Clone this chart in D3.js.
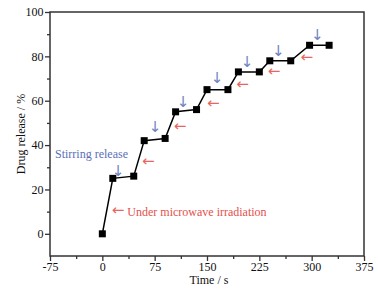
<!DOCTYPE html>
<html><head><meta charset="utf-8">
<script src="https://cdn.jsdelivr.net/npm/d3@7"></script>
<style>html,body{margin:0;padding:0;background:#fff}svg{display:block}</style>
</head><body><svg id="c" width="378" height="290"></svg>
<script>
const timeS = [0, 15, 45, 60, 90, 105, 135, 150, 180, 195, 225, 240, 270, 297, 325];
const release = [0, 25, 26, 42, 43, 55, 56, 65, 65, 73, 73, 78, 78, 85, 85];
const xTicks = [-75, 0, 75, 150, 225, 300, 375];
const xMinor = [-37.5, 37.5, 112.5, 187.5, 262.5, 337.5];
const yTicks = [0, 20, 40, 60, 80, 100];
const yMinor = [10, 30, 50, 70, 90];
// annotation arrows (data coords of arrow centre)
const stirArrowX = [22.5, 75.6, 115.7, 164.5, 207.5, 252, 308];
const stirArrowY = [28.4, 48.2, 59.5, 70.3, 77.5, 82.5, 89.7];
const mwArrowX = [66, 111.4, 159, 201, 246, 293];
const mwArrowY = [33, 48.6, 58.9, 67.6, 73.5, 79.6];
const stirLabel = {text: "Stirring release", x: -67.8, y: 34};
const mwLabel = {arrow: "\u2190", text: " Under microwave irradiation", x: 13.5, y: 8.1};

const svg = d3.select("#c");
const L = 50, R = 364, T = 12, B = 256;
const x = d3.scaleLinear().domain([-75, 375]).range([L, R]);
const y = d3.scaleLinear().domain([-10, 100]).range([B, T]);
const axisCol = "#333";
const font = "'Liberation Serif','Times New Roman',serif";
const arrowFont = "'DejaVu Sans',sans-serif";

// frame
svg.append("rect").attr("x", L).attr("y", T).attr("width", R - L).attr("height", B - T)
  .attr("fill", "none").attr("stroke", axisCol).attr("stroke-width", 1.5);

// axes
const fmt = d => String(d);
const xa = svg.append("g").attr("transform", `translate(0,${B})`)
  .call(d3.axisBottom(x).tickValues(xTicks).tickSize(5).tickSizeOuter(0).tickFormat(fmt));
const xm = svg.append("g").attr("transform", `translate(0,${B})`)
  .call(d3.axisBottom(x).tickValues(xMinor).tickSize(3).tickSizeOuter(0).tickFormat(""));
const ya = svg.append("g").attr("transform", `translate(${L},0)`)
  .call(d3.axisLeft(y).tickValues(yTicks).tickSize(5).tickPadding(1.5).tickSizeOuter(0).tickFormat(fmt));
const ym = svg.append("g").attr("transform", `translate(${L},0)`)
  .call(d3.axisLeft(y).tickValues(yMinor).tickSize(3).tickSizeOuter(0).tickFormat(""));
[xa, xm, ya, ym].forEach(g => {
  g.select(".domain").remove();
  g.selectAll("line").attr("stroke", axisCol).attr("stroke-width", 1.3);
  g.selectAll("text").attr("fill", "#111").attr("font-family", font).attr("font-size", 12);
});
xa.selectAll("text").attr("dy", "0.62em");

// axis titles
svg.append("text").attr("x", (L + R) / 2 + 2).attr("y", 284).attr("text-anchor", "middle")
  .attr("font-family", font).attr("font-size", 12).attr("fill", "#111").text("Time / s");
svg.append("text").attr("transform", `translate(24.5,${(T + B) / 2}) rotate(-90)`)
  .attr("text-anchor", "middle").attr("font-family", font).attr("font-size", 12).attr("fill", "#111")
  .text("Drug release / %");

// line and markers
const pts = timeS.map((t, i) => [t, release[i]]);
svg.append("path").datum(pts)
  .attr("d", d3.line().x(d => x(d[0])).y(d => y(d[1])))
  .attr("fill", "none").attr("stroke", "#000").attr("stroke-width", 1.5);
svg.selectAll("rect.m").data(pts).enter().append("rect").attr("class", "m")
  .attr("x", d => x(d[0]) - 3.5).attr("y", d => y(d[1]) - 3.5)
  .attr("width", 7).attr("height", 7).attr("fill", "#000");

// annotations
const blue = "#5b70b6", red = "#e4504b";
const blueArrow = "#6f83c0", redArrow = "#e86560";
svg.selectAll("text.sa").data(stirArrowX).enter().append("text").attr("class", "sa")
  .attr("x", d => x(d)).attr("y", (d, i) => y(stirArrowY[i]))
  .attr("text-anchor", "middle").attr("dominant-baseline", "central")
  .attr("font-family", arrowFont).attr("font-size", 15).attr("fill", blueArrow).text("\u2193");
svg.selectAll("text.ma").data(mwArrowX).enter().append("text").attr("class", "ma")
  .attr("x", d => x(d)).attr("y", (d, i) => y(mwArrowY[i]))
  .attr("text-anchor", "middle").attr("dominant-baseline", "central")
  .attr("font-family", arrowFont).attr("font-size", 15).attr("fill", redArrow).text("\u2190");
svg.append("text").attr("x", x(stirLabel.x)).attr("y", y(stirLabel.y))
  .attr("font-family", font).attr("font-size", 12).attr("fill", blue).text(stirLabel.text);
const mt = svg.append("text").attr("x", x(mwLabel.x)).attr("y", y(mwLabel.y))
  .attr("font-family", font).attr("font-size", 12).attr("fill", red);
mt.append("tspan").attr("font-family", arrowFont).attr("font-size", 15).attr("fill", redArrow).attr("dy", -0.5).text(mwLabel.arrow);
mt.append("tspan").attr("dy", 0.5).text(mwLabel.text);
</script></body></html>
